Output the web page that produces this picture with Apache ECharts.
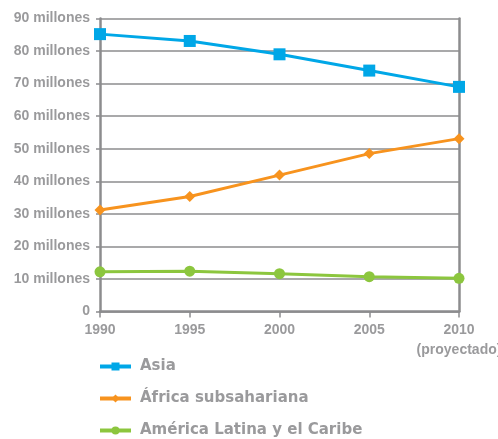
<!DOCTYPE html>
<html><head><meta charset="utf-8">
<script src="https://cdn.jsdelivr.net/npm/echarts@6/dist/echarts.min.js"></script>
<style>html,body{margin:0;padding:0;background:#fff}#c{width:498px;height:439px}</style>
</head><body><div id="c"></div>
<script>
var years = ['1990', '1995', '2000', '2005', '2010'];
var yearLabels = ['1990', '1995', '2000', '2005', '2010\n(proyectado)'];
var asia = [85.2, 83.1, 79.0, 74.0, 69.0];
var africa = [31.2, 35.3, 41.9, 48.5, 53.1];
var latam = [12.2, 12.4, 11.6, 10.7, 10.2];
var seriesNames = ['Asia', 'África subsahariana', 'América Latina y el Caribe'];
var colors = ['#00a7e7', '#f7931e', '#8cc63e'];

var gray = '#8c8c8e';
var textGray = '#9a9a9c';
var axisFont = "'Liberation Sans', Arial, sans-serif";
var legendFont = "'DejaVu Sans', sans-serif";

function mkLegend(i, top) {
  return {
    orient: 'vertical', left: 98, top: top, padding: 0,
    itemWidth: 31, itemHeight: 10,
    lineStyle: { width: 4 },
    data: [seriesNames[i]],
    textStyle: { color: textGray, fontSize: 15, fontWeight: 'bold', fontFamily: legendFont, padding: [0, 0, 0, 4] }
  };
}

var chart = echarts.init(document.getElementById('c'));
chart.setOption({
  animation: false,
  grid: { left: 100, right: 39, top: 18.5, bottom: 127.5, outerBoundsMode: 'none', containLabel: false },
  legend: [mkLegend(0, 359), mkLegend(1, 391), mkLegend(2, 423)],
  xAxis: {
    type: 'category', data: years, boundaryGap: false,
    axisLine: { lineStyle: { color: gray, width: 2.5 } },
    axisTick: { show: true, length: 6, interval: 0, lineStyle: { color: gray, width: 1.5 } },
    axisLabel: {
      color: textGray, fontSize: 14, fontWeight: 'bold', fontFamily: axisFont,
      margin: 9, lineHeight: 20, interval: 0, hideOverlap: false,
      formatter: function (v, i) { return yearLabels[i]; }
    }
  },
  yAxis: [{
    type: 'value', min: 0, max: 90, interval: 10,
    axisLine: { show: true, lineStyle: { color: gray, width: 2.5 } },
    axisTick: { show: true, length: 4, lineStyle: { color: gray, width: 1.5 } },
    splitLine: { show: true, lineStyle: { color: gray, width: 1.5 } },
    axisLabel: {
      color: textGray, fontSize: 14, fontWeight: 'bold', fontFamily: axisFont, margin: 10,
      formatter: function (v) { return v === 0 ? '0' : v + ' millones'; }
    }
  }, {
    type: 'value', min: 0, max: 90, interval: 10, position: 'right',
    axisLine: { show: true, lineStyle: { color: gray, width: 2.5 } },
    axisTick: { show: false }, splitLine: { show: false }, axisLabel: { show: false }
  }],
  series: [{
    name: seriesNames[0], type: 'line', data: asia,
    symbol: 'rect', symbolSize: 12,
    lineStyle: { color: colors[0], width: 3 }, itemStyle: { color: colors[0] }
  }, {
    name: seriesNames[1], type: 'line', data: africa,
    symbol: 'diamond', symbolSize: 11,
    lineStyle: { color: colors[1], width: 3 }, itemStyle: { color: colors[1] }
  }, {
    name: seriesNames[2], type: 'line', data: latam,
    symbol: 'circle', symbolSize: 11,
    lineStyle: { color: colors[2], width: 3 }, itemStyle: { color: colors[2] }
  }]
});
</script></body></html>
